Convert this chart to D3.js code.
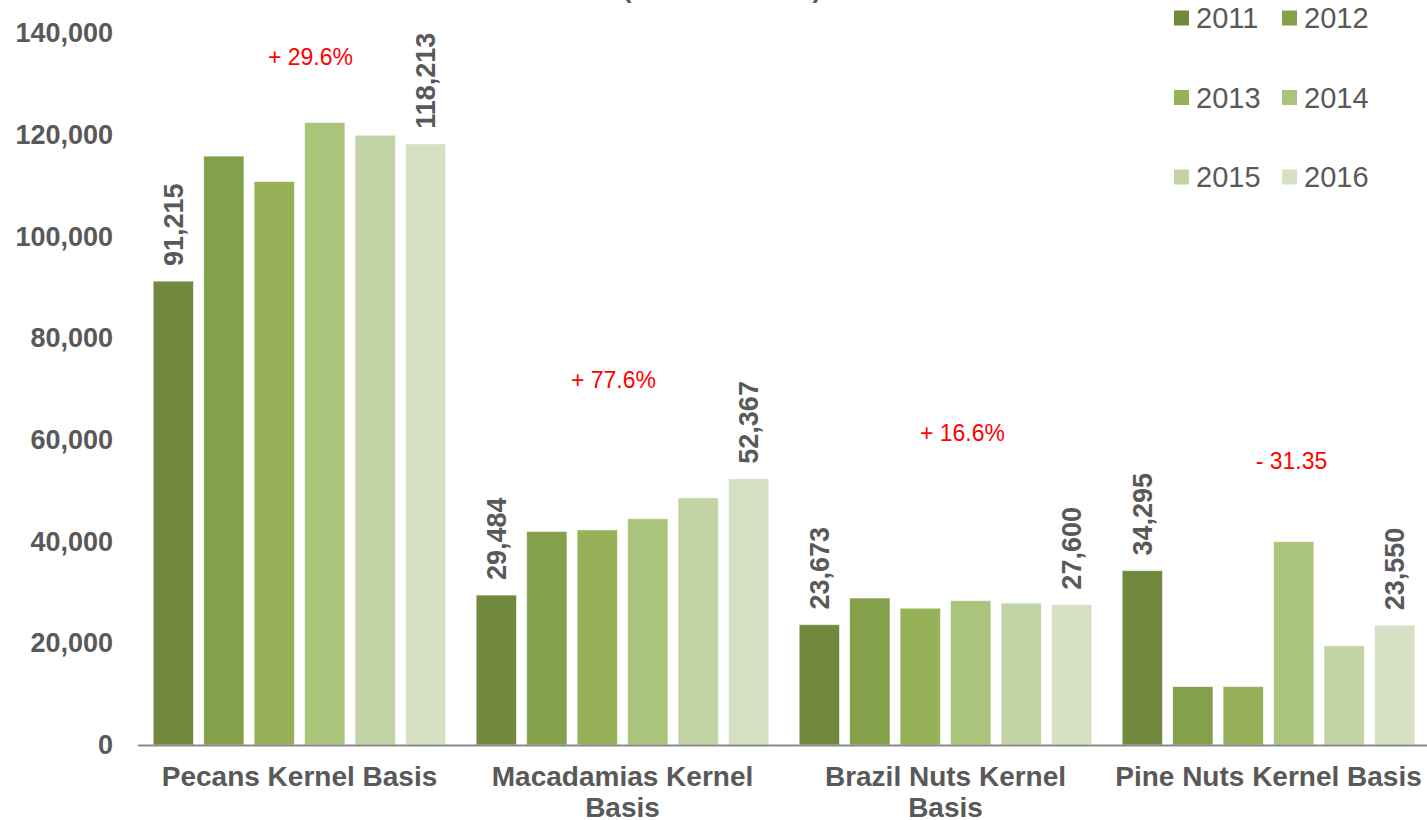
<!DOCTYPE html>
<html>
<head>
<meta charset="utf-8">
<script src="https://cdn.jsdelivr.net/npm/d3@7"></script>
<style>
  html, body { margin: 0; padding: 0; background: #fff; overflow: hidden; }
  svg { display: block; font-family: "Liberation Sans", Arial, sans-serif; }
</style>
</head>
<body>
<svg id="chart" width="1427" height="820"></svg>
<script>
// data
var categories = ['Pecans Kernel Basis', 'Macadamias Kernel Basis', 'Brazil Nuts Kernel Basis', 'Pine Nuts Kernel Basis'];
var categoryLines = [['Pecans Kernel Basis'], ['Macadamias Kernel', 'Basis'], ['Brazil Nuts Kernel', 'Basis'], ['Pine Nuts Kernel Basis']];
var years = ['2011', '2012', '2013', '2014', '2015', '2016'];
var pecans = [91215, 115800, 110800, 122400, 119900, 118213];
var macadamias = [29484, 42000, 42300, 44500, 48600, 52367];
var brazilNuts = [23673, 28900, 26900, 28400, 27900, 27600];
var pineNuts = [34295, 11500, 11500, 40000, 19500, 23550];
var changeLabels = ['+ 29.6%', '+ 77.6%', '+ 16.6%', '- 31.35'];
var yTicks = [0, 20000, 40000, 60000, 80000, 100000, 120000, 140000];
var titleText = '(Metric Tonnes)';

(function () {
  var series = [pecans, macadamias, brazilNuts, pineNuts];
  var colors = ['#71893f', '#84a04b', '#96b157', '#aac47b', '#c2d3a5', '#d6e1c4'];

  var svg = d3.select('#chart');
  var left = 138, right = 1430, plotTop = 33, bottom = 745;
  var grey = '#595959';

  var x0 = d3.scaleBand().domain(categories).range([left, right]).padding(0);
  var x1 = d3.scaleBand().domain(years).range([0, x0.bandwidth()])
    .paddingInner(0.2).paddingOuter(0.3);
  var y = d3.scaleLinear().domain([0, 140000]).range([bottom, plotTop]);
  var color = d3.scaleOrdinal().domain(years).range(colors);

  // title, mostly above the visible area
  svg.append('text')
    .attr('x', 722)
    .attr('y', -3)
    .attr('text-anchor', 'middle')
    .attr('font-size', '27px')
    .attr('font-weight', 'bold')
    .attr('fill', grey)
    .text(titleText);

  // y axis, labels only
  var yAxis = svg.append('g')
    .attr('transform', 'translate(' + left + ',0)')
    .call(d3.axisLeft(y).tickValues(yTicks).tickFormat(d3.format(',')).tickSize(0).tickPadding(25));
  yAxis.select('.domain').remove();
  yAxis.selectAll('text')
    .attr('font-family', '"Liberation Sans", Arial, sans-serif')
    .attr('font-size', '27px')
    .attr('font-weight', 'bold')
    .attr('fill', grey);

  // bars
  var groups = svg.append('g').selectAll('g')
    .data(categories)
    .enter()
    .append('g')
    .attr('transform', function (d) { return 'translate(' + x0(d) + ',0)'; });

  groups.selectAll('rect')
    .data(function (d, i) {
      return series[i].map(function (v, k) { return { year: years[k], value: v }; });
    })
    .enter()
    .append('rect')
    .attr('x', function (d) { return x1(d.year); })
    .attr('y', function (d) { return y(d.value); })
    .attr('width', x1.bandwidth())
    .attr('height', function (d) { return bottom - y(d.value); })
    .attr('fill', function (d) { return color(d.year); })
    .attr('stroke', '#ffffff')
    .attr('stroke-opacity', 0.6)
    .attr('stroke-width', 1);

  // value labels on the first and last year
  groups.selectAll('text.value')
    .data(function (d, i) {
      var s = series[i];
      return [{ year: years[0], value: s[0] }, { year: years[5], value: s[5] }];
    })
    .enter()
    .append('text')
    .attr('class', 'value')
    .attr('transform', function (d) {
      return 'translate(' + (x1(d.year) + x1.bandwidth() / 2) + ',' + (y(d.value) - 15) + ') rotate(-90)';
    })
    .attr('dy', '0.36em')
    .attr('font-size', '27px')
    .attr('font-weight', 'bold')
    .attr('fill', grey)
    .text(function (d) { return d3.format(',')(d.value); });

  // change annotations (red), placed above each group
  var annoValue = [135300, 71800, 61300, 55800];
  var annoShift = [11, -9, 17, 23];
  svg.append('g').selectAll('text')
    .data(changeLabels)
    .enter()
    .append('text')
    .attr('x', function (d, i) { return x0(categories[i]) + x0.bandwidth() / 2 + annoShift[i]; })
    .attr('y', function (d, i) { return y(annoValue[i]); })
    .attr('dy', '0.35em')
    .attr('text-anchor', 'middle')
    .attr('font-size', '23px')
    .attr('fill', '#ff0000')
    .text(function (d) { return d; });

  // x axis line
  svg.append('line')
    .attr('x1', left)
    .attr('x2', right)
    .attr('y1', bottom + 0.5)
    .attr('y2', bottom + 0.5)
    .attr('stroke', '#898989')
    .attr('stroke-width', 2);

  // category labels
  var catText = svg.append('g').selectAll('text')
    .data(categories)
    .enter()
    .append('text')
    .attr('x', function (d) { return x0(d) + x0.bandwidth() / 2; })
    .attr('y', 786)
    .attr('text-anchor', 'middle')
    .attr('font-size', '28px')
    .attr('font-weight', 'bold')
    .attr('fill', grey);
  catText.selectAll('tspan')
    .data(function (d, i) { return categoryLines[i]; })
    .enter()
    .append('tspan')
    .attr('x', function () { return d3.select(this.parentNode).attr('x'); })
    .attr('dy', function (d, i) { return i === 0 ? 0 : 31; })
    .text(function (d) { return d; });

  // legend, two columns
  var legend = svg.append('g').selectAll('g')
    .data(years)
    .enter()
    .append('g')
    .attr('transform', function (d, i) {
      return 'translate(' + (1174 + (i % 2) * 108) + ',' + (18 + Math.floor(i / 2) * 79.5) + ')';
    });
  legend.append('rect')
    .attr('x', 0)
    .attr('y', -7.5)
    .attr('width', 15)
    .attr('height', 15)
    .attr('fill', function (d) { return color(d); });
  legend.append('text')
    .attr('x', 22)
    .attr('dy', '0.36em')
    .attr('font-size', '29px')
    .attr('fill', grey)
    .text(function (d) { return d; });
})();
</script>
</body>
</html>
